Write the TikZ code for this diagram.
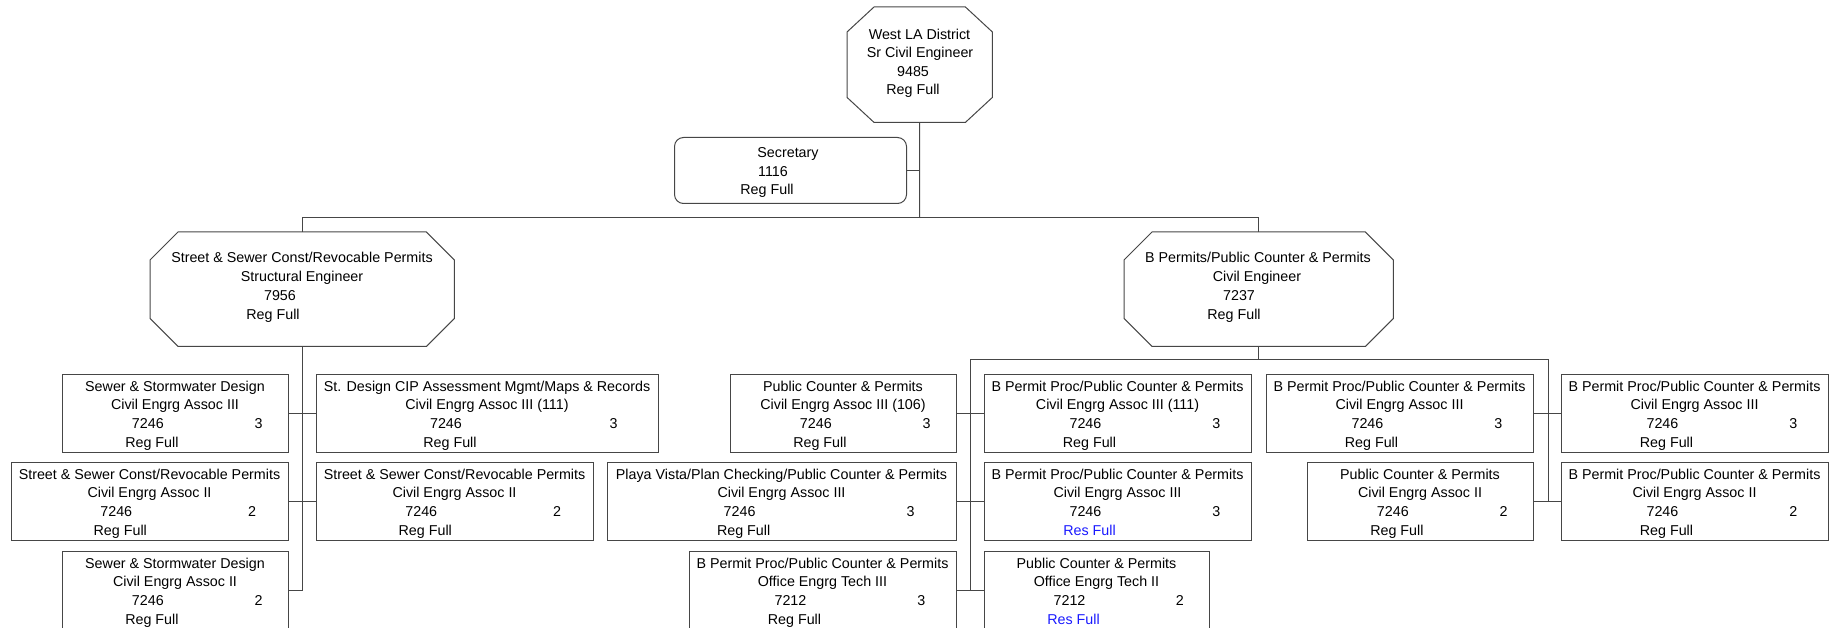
\documentclass[tikz,border=0pt]{standalone}
\usepackage{fontspec}
\setmainfont{Liberation Sans}
\usepackage{xcolor}
\usepackage{tikz}

\definecolor{resblue}{RGB}{25,25,255}
\definecolor{wiregray}{RGB}{70,70,70}

\tikzset{
  wire/.style={draw = wiregray, line width = 1pt},
  post/.style={rectangle, draw = wiregray, line width = 1pt, inner sep = 0pt, minimum height = 78},
  frame/.style={rectangle, inner sep = 0pt},
  txt/.style={inner sep = 0pt, text height = 10.2pt, text depth = 0pt, font = \fontsize{14.3pt}{18pt}\selectfont}
}

\newcommand{\posn}[9]{%
  \node[post, minimum width = {#3-#2}, anchor = north west] (#1) at (#2,#4) {};
  \node[txt] (#1-t) at ({(#2+#3)/2},#4+12) {#5};
  \node[txt] (#1-c) at ({(#2+#3)/2},#4+30) {#6};
  \node[txt] (#1-k) at ({#2+0.38*(#3-#2)},#4+49) {#7};
  \node[txt] (#1-n) at ({#3-0.13*(#3-#2)},#4+49) {#8};
  \node[txt] (#1-s) at ({#2+0.38*(#3-#2)+4},#4+68) {#9};
}
\newcommand{\octa}[3]{%
  \draw[wire] ([xshift=#2]#1.north west) -- ([xshift=-#2]#1.north east) -- ([yshift=-#3]#1.north east) -- ([yshift=#3]#1.south east) -- ([xshift=-#2]#1.south east) -- ([xshift=#2]#1.south west) -- ([yshift=#3]#1.south west) -- ([yshift=-#3]#1.north west) -- cycle;
}

\begin{document}
\begin{tikzpicture}[x = 1pt, y = -1pt]
        \useasboundingbox (0,0) rectangle (1843,628);

        \node[frame, minimum width = 145, minimum height = 115, anchor = north west] (wla) at (847,7) {};
        \octa{wla}{27}{25}
        \node[txt] (wla-t) at (919.5,34) {West LA District};
        \node[txt] (wla-c) at (920,52.5) {Sr Civil Engineer};
        \node[txt] (wla-k) at (913,71) {9485};
        \node[txt] (wla-s) at (913,89.5) {Reg Full};

        \node[post, rounded corners = 9pt, minimum width = 232, minimum height = 66, anchor = north west] (sec) at (674,137) {};
        \node[txt] (sec-t) at (788,152) {Secretary};
        \node[txt] (sec-k) at (773,171) {1116};
        \node[txt] (sec-s) at (767,189.5) {Reg Full};

        \node[frame, minimum width = 304, minimum height = 114, anchor = north west] (ssc) at (150,232) {};
        \octa{ssc}{28}{28}
        \node[txt] (ssc-t) at (302,257) {Street \& Sewer Const/Revocable Permits};
        \node[txt] (ssc-c) at (302,276) {Structural Engineer};
        \node[txt] (ssc-k) at (280,295) {7956};
        \node[txt] (ssc-s) at (273,314) {Reg Full};

        \node[frame, minimum width = 269, minimum height = 114, anchor = north west] (bpp) at (1124,232) {};
        \octa{bpp}{28}{28}
        \node[txt] (bpp-t) at (1258,257) {B Permits/Public Counter \& Permits};
        \node[txt] (bpp-c) at (1257,276) {Civil Engineer};
        \node[txt] (bpp-k) at (1239,295) {7237};
        \node[txt] (bpp-s) at (1234,314) {Reg Full};

        \posn{swd3}{62}{288}{374}{Sewer \& Stormwater Design}{Civil Engrg Assoc III}{7246}{3}{Reg Full}
        \posn{stc3}{316}{658}{374}{St. Design CIP Assessment Mgmt/Maps \& Records}{Civil Engrg Assoc III (111)}{7246}{3}{Reg Full}
        \posn{ssr2}{11}{288}{462}{Street \& Sewer Const/Revocable Permits}{Civil Engrg Assoc II}{7246}{2}{Reg Full}
        \posn{ssq2}{316}{593}{462}{Street \& Sewer Const/Revocable Permits}{Civil Engrg Assoc II}{7246}{2}{Reg Full}
        \posn{swd2}{62}{288}{551}{Sewer \& Stormwater Design}{Civil Engrg Assoc II}{7246}{2}{Reg Full}

        \posn{pcp3}{730}{956}{374}{Public Counter \& Permits}{Civil Engrg Assoc III (106)}{7246}{3}{Reg Full}
        \posn{bpa3}{984}{1251}{374}{B Permit Proc/Public Counter \& Permits}{Civil Engrg Assoc III (111)}{7246}{3}{Reg Full}
        \posn{pvp3}{607}{956}{462}{Playa Vista/Plan Checking/Public Counter \& Permits}{Civil Engrg Assoc III}{7246}{3}{Reg Full}
        \posn{bpb3}{984}{1251}{462}{B Permit Proc/Public Counter \& Permits}{Civil Engrg Assoc III}{7246}{3}{\color{resblue}Res Full}
        \posn{bpt3}{689}{956}{551}{B Permit Proc/Public Counter \& Permits}{Office Engrg Tech III}{7212}{3}{Reg Full}
        \posn{pct2}{984}{1209}{551}{Public Counter \& Permits}{Office Engrg Tech II}{7212}{2}{\color{resblue}Res Full}

        \posn{bpc3}{1266}{1533}{374}{B Permit Proc/Public Counter \& Permits}{Civil Engrg Assoc III}{7246}{3}{Reg Full}
        \posn{bpd3}{1561}{1828}{374}{B Permit Proc/Public Counter \& Permits}{Civil Engrg Assoc III}{7246}{3}{Reg Full}
        \posn{pca2}{1307}{1533}{462}{Public Counter \& Permits}{Civil Engrg Assoc II}{7246}{2}{Reg Full}
        \posn{bpe2}{1561}{1828}{462}{B Permit Proc/Public Counter \& Permits}{Civil Engrg Assoc II}{7246}{2}{Reg Full}

        \coordinate (hub) at (919.5,218);
        \coordinate (cbus) at (970,359);
        \coordinate (rbus) at (1548,359);
        \draw[wire] (wla.south) -- (hub);
        \draw[wire] (sec.east) -- (sec.east -| hub);
        \draw[wire] (ssc.north) -- (ssc.north |- hub) -- (bpp.north |- hub) -- (bpp.north);
        \draw[wire] (ssc.south) -- (ssc.south |- swd2.east) -- (swd2.east);
        \draw[wire] (swd3.east) -- (stc3.west);
        \draw[wire] (ssr2.east) -- (ssq2.west);
        \draw[wire] (bpp.south) -- (bpp.south |- cbus);
        \draw[wire] (pct2.west -| cbus) -- (cbus) -- (rbus) -- (rbus |- bpe2.west);
        \draw[wire] (pcp3.east) -- (bpa3.west);
        \draw[wire] (pvp3.east) -- (bpb3.west);
        \draw[wire] (bpt3.east) -- (pct2.west);
        \draw[wire] (bpc3.east) -- (bpd3.west);
        \draw[wire] (pca2.east) -- (bpe2.west);
\end{tikzpicture}
\end{document}
